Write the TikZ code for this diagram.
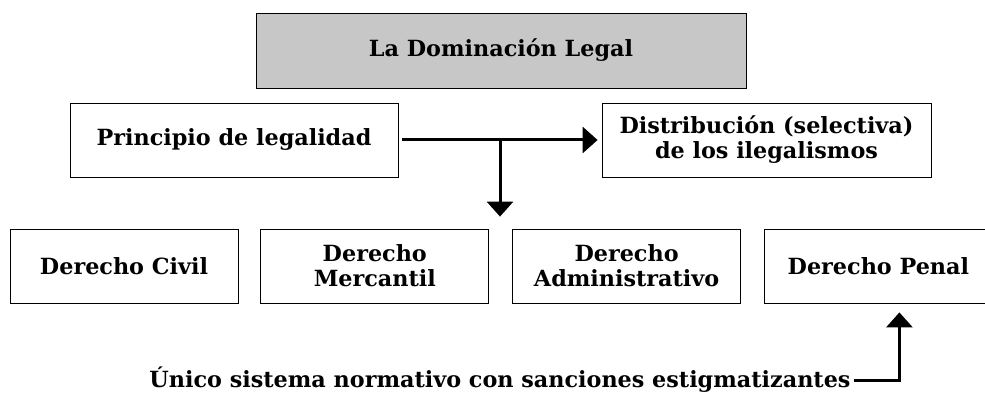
\documentclass[tikz,border=0pt]{standalone}
\usepackage{fontspec}
\setmainfont{DejaVu Serif}
\usepackage{tikz}
\usetikzlibrary{positioning,arrows.meta}

\begin{document}
\begin{tikzpicture}[x=1pt,y=-1pt,node distance=22pt,
    box/.style={draw,line width=0.8pt,minimum height=74pt,align=center,inner sep=2pt,font=\fontsize{22.3}{25}\selectfont\bfseries},
    arr/.style={line width=3pt,-{Triangle[width=26pt,length=15pt]}}]
    \useasboundingbox (0,0) rectangle (985,393);
    \clip (0,0) rectangle (985,393);

    \node[box,fill=black!22,minimum width=490pt,minimum height=75pt] (dom) at (501,50.5) {La Dominación Legal};
    \node[box,minimum width=328pt] (prin) at (234,140) {Principio de legalidad};
    \node[box,minimum width=329pt] (dist) at (766.5,140) {Distribución (selectiva)\\de los ilegalismos};

    \node[box,minimum width=228pt] (civ) at (124,266) {Derecho Civil};
    \node[box,minimum width=228pt,right=of civ] (mer) {Derecho\\Mercantil};
    \node[box,minimum width=228pt,right=23pt of mer] (adm) {Derecho\\Administrativo};
    \node[box,minimum width=228pt,right=23pt of adm] (pen) {Derecho Penal};

    \node[font=\fontsize{22.3}{25}\selectfont\bfseries,inner sep=3pt] (uni) at (500,380) {Único sistema normativo con sanciones estigmatizantes};

    \path (prin.east) -- coordinate[midway] (mid) (dist.west);
    \draw[arr,shorten <=4pt,shorten >=4pt] (prin.east) -- (dist.west);
    \draw[arr] (mid) -- ([yshift=12pt]mid |- mer.north);
    \draw[arr,shorten >=9pt] (uni.east) -| ([xshift=21pt]pen.south);
\end{tikzpicture}
\end{document}
